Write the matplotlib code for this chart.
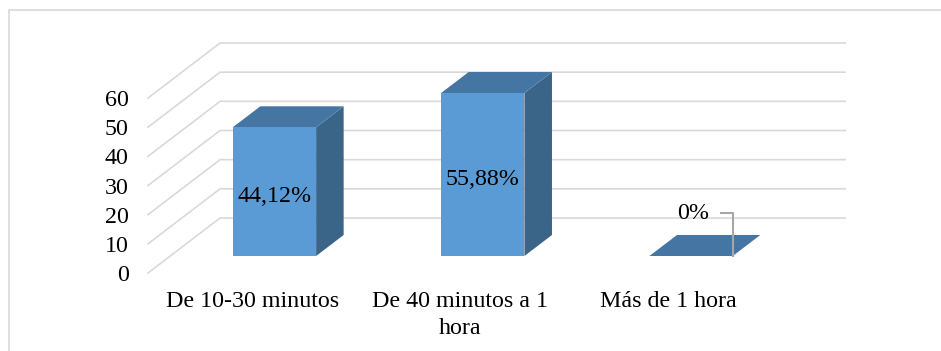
import matplotlib
matplotlib.use("Agg")
import matplotlib.pyplot as plt
from matplotlib.patches import Polygon
from matplotlib.lines import Line2D

categories = ["De 10-30 minutos", "De 40 minutos a 1\nhora", "Más de 1 hora"]
values = [44.12, 55.88, 0.0]
value_labels = ["44,12%", "55,88%", "0%"]
yticks = [0, 10, 20, 30, 40, 50, 60]

FRONT = "#5b9bd5"
TOP = "#4576a3"
SIDE = "#3b6489"
GRID = "#d9d9d9"

plt.rcParams["font.family"] = ["Liberation Serif", "DejaVu Serif"]
FS = 17.3

W, H = 941, 351
fig = plt.figure(figsize=(W / 100, H / 100), dpi=100)

# axes covers the front plane of the oblique projection
ax = fig.add_axes([148 / W, (H - 273) / H, 625 / W, 175 / H])
ax.set_xlim(-0.5, 2.5)
ax.set_ylim(0, 60)
for s in ax.spines.values():
    s.set_visible(False)
ax.set_facecolor("none")

# oblique depth offset (category units, value units)
DX, DY = 0.346, 18.86
f_front, f_back = 0.309, 0.691
half_w = 0.2


def proj(x, v, d):
    return (x + d * DX, v + d * DY)


# gridlines on the left wall and back wall
for t in yticks:
    x0, y0 = proj(-0.5, t, 0)
    x1, y1 = proj(-0.5, t, 1)
    x2, y2 = proj(2.5, t, 1)
    ax.add_line(Line2D([x0, x1, x2], [y0, y1, y2], color=GRID, lw=1.2,
                       clip_on=False, zorder=1))

ax.set_yticks(yticks)
ax.set_yticklabels([str(t) for t in yticks], fontsize=FS)
ax.set_xticks(range(len(categories)))
ax.set_xticklabels(categories, fontsize=FS, linespacing=1.4)
ax.tick_params(axis="y", length=0, pad=14)
ax.tick_params(axis="x", length=0, pad=13)

for i, v in enumerate(values):
    xl, xr = i - half_w, i + half_w
    fl = proj(xl, 0, f_front)
    fr = proj(xr, 0, f_front)
    frt = proj(xr, v, f_front)
    flt = proj(xl, v, f_front)
    br = proj(xr, 0, f_back)
    brt = proj(xr, v, f_back)
    blt = proj(xl, v, f_back)
    if v > 0:
        ax.add_patch(Polygon([fr, br, brt, frt], closed=True, fc=SIDE,
                             ec="none", clip_on=False, zorder=3))
        ax.add_patch(Polygon([flt, frt, brt, blt], closed=True, fc=TOP,
                             ec="none", clip_on=False, zorder=3))
        ax.add_patch(Polygon([fl, fr, frt, flt], closed=True, fc=FRONT,
                             ec="none", clip_on=False, zorder=4))
        cx = i + f_front * DX
        ax.text(cx, v / 2 + f_front * DY - 1.8, value_labels[i], fontsize=FS,
                ha="center", va="center", zorder=5)
    else:
        ax.add_patch(Polygon([flt, frt, brt, blt], closed=True, fc=TOP,
                             ec="none", clip_on=False, zorder=3))
        # leader line to the label
        lx0, ly0 = frt
        ax.add_line(Line2D([lx0, lx0, lx0 - 0.058], [ly0, ly0 + 14.7, ly0 + 14.7],
                           color="#a6a6a6", lw=1.5, clip_on=False, zorder=5))
        ax.text(lx0 - 0.115, ly0 + 14.7, value_labels[i], fontsize=FS,
                ha="right", va="center", zorder=5)

# chart frame
fig.add_artist(Line2D([9 / W, 9 / W, 1.0], [0.0, (H - 10) / H, (H - 10) / H],
                      transform=fig.transFigure, color="#d9d9d9", lw=1.2))

fig.savefig("out.png", dpi=100, facecolor="white")
